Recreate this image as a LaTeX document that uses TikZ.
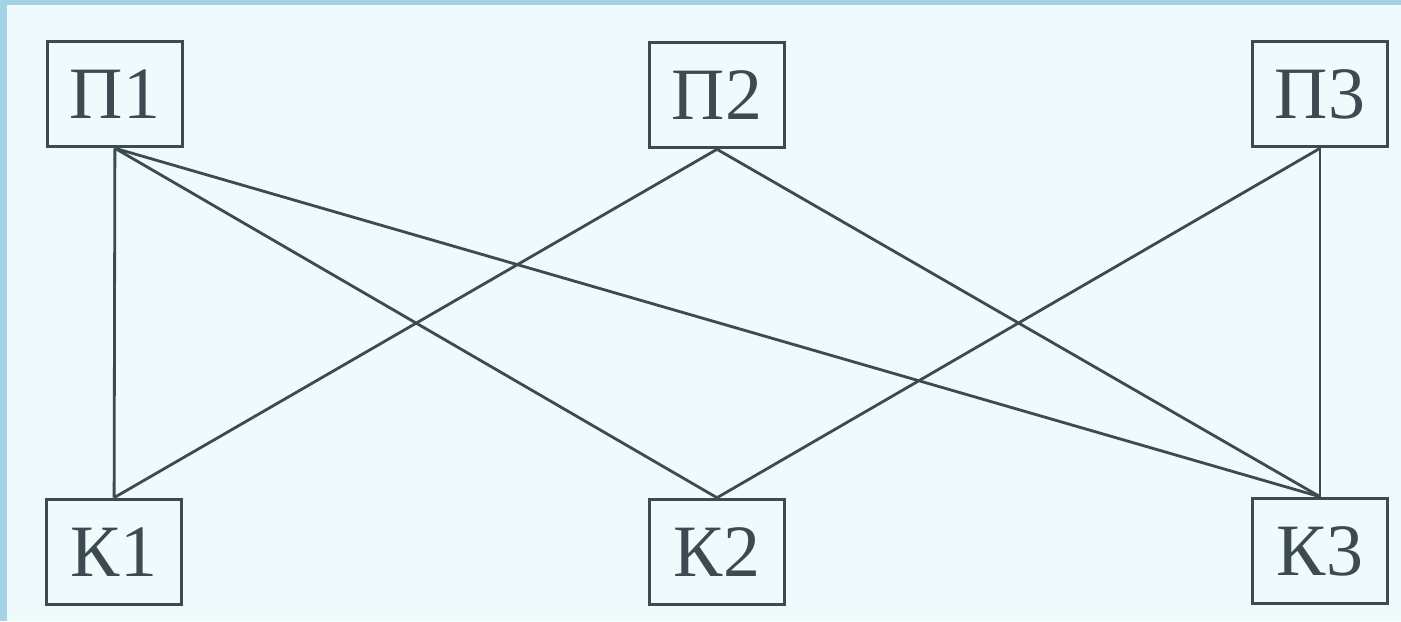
\documentclass[tikz,border=0pt]{standalone}
\usepackage{fontspec}
\setmainfont{Liberation Serif}
\definecolor{frameblue}{HTML}{A6D2E6}
\definecolor{paper}{HTML}{EFFAFC}
\definecolor{ink}{HTML}{3C4A52}

\begin{document}
\begin{tikzpicture}[x=0.01cm,y=-0.01cm,
    box/.style={draw=ink,line width=1pt,minimum width=1.35cm,minimum height=1.05cm,
      inner sep=0pt,text=ink,font=\fontsize{21}{25}\selectfont},
    edge/.style={draw=ink,line width=0.8pt}]
      \fill[frameblue] (0,0) rectangle (1401,621);
      \fill[paper] (7,5) rectangle (1401,621);

      \node[box] (p1) at (115,94) {П1};
      \node[box] (p2) at (717,95) {П2};
      \node[box] (p3) at (1320,94) {П3};
      \node[box] (k1) at (114,552) {К1};
      \node[box] (k2) at (717,552) {К2};
      \node[box] (k3) at (1320,551) {К3};

      \draw[edge] (p1) -- (k1);
      \draw[edge] (p1.south) -- (k2.north);
      \draw[edge] (p1.south) -- (k3.north);
      \draw[edge] (p2.south) -- (k1.north);
      \draw[edge] (p2.south) -- (k3.north);
      \draw[edge] (p3.south) -- (k2.north);
      \draw[edge] (p3) -- (k3);
    \end{tikzpicture}
\end{document}
